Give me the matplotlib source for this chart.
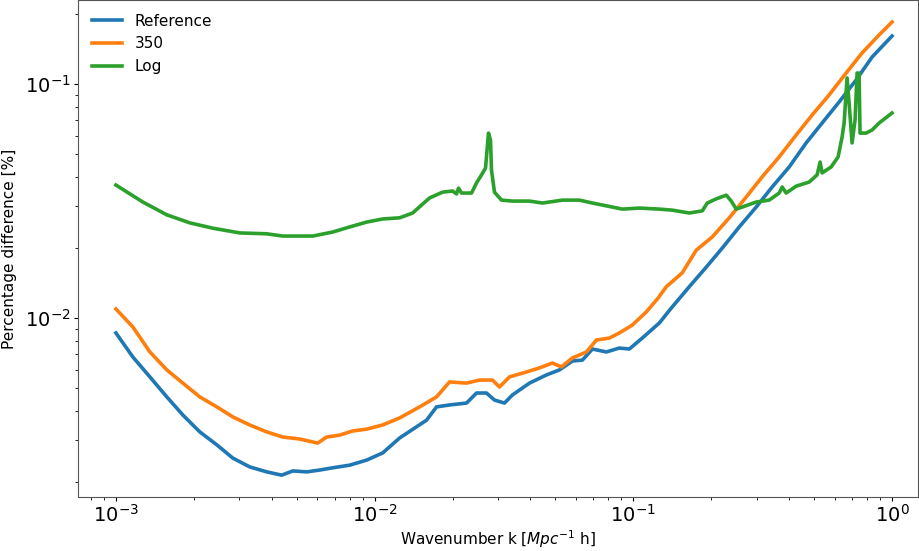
import numpy as np
import matplotlib
matplotlib.use("Agg")
import matplotlib.pyplot as plt

# percentage difference vs wavenumber, three runs
k_ref = [1.000e-3, 1.163e-3, 1.353e-3, 1.573e-3, 1.814e-3, 2.110e-3, 2.455e-3, 2.829e-3,
         3.291e-3, 3.828e-3, 4.374e-3, 4.825e-3, 5.464e-3, 6.133e-3, 6.884e-3, 8.009e-3,
         9.314e-3, 1.074e-2, 1.249e-2, 1.588e-2, 1.735e-2, 1.948e-2, 2.266e-2, 2.477e-2,
         2.706e-2, 2.906e-2, 3.176e-2, 3.410e-2, 3.968e-2, 4.614e-2, 5.179e-2, 5.815e-2,
         6.357e-2, 6.947e-2, 7.867e-2, 8.828e-2, 9.652e-2, 0.1083, 0.1260, 0.1402,
         0.1645, 0.1914, 0.2207, 0.2567, 0.2985, 0.3441, 0.4003, 0.4656, 0.5366, 0.6245,
         0.7261, 0.8373, 1.0]
diff_ref = [0.00863, 0.00681, 0.00560, 0.00460, 0.00385, 0.00326, 0.00287, 0.00252,
            0.00231, 0.00220, 0.00213, 0.00222, 0.00220, 0.00224, 0.00229, 0.00235,
            0.00247, 0.00265, 0.00307, 0.00366, 0.00417, 0.00425, 0.00433, 0.00478,
            0.00478, 0.00446, 0.00433, 0.00469, 0.00527, 0.00571, 0.00600, 0.00655,
            0.00661, 0.00737, 0.00716, 0.00744, 0.00737, 0.00821, 0.00952, 0.01103,
            0.0136, 0.0165, 0.0199, 0.0245, 0.0298, 0.0363, 0.0442, 0.0560, 0.0681, 0.0838,
            0.1040, 0.1304, 0.1604]

k_350 = [1.000e-3, 1.163e-3, 1.353e-3, 1.573e-3, 1.814e-3, 2.110e-3, 2.455e-3, 2.829e-3,
         3.291e-3, 3.828e-3, 4.413e-3, 5.133e-3, 6.025e-3, 6.527e-3, 7.327e-3, 8.226e-3,
         9.314e-3, 1.074e-2, 1.249e-2, 1.492e-2, 1.735e-2, 1.948e-2, 2.266e-2, 2.544e-2,
         2.855e-2, 3.038e-2, 3.320e-2, 3.863e-2, 4.336e-2, 4.867e-2, 5.272e-2, 5.815e-2,
         6.586e-2, 7.199e-2, 8.078e-2, 8.828e-2, 9.911e-2, 0.1122, 0.1249, 0.1341,
         0.1546, 0.1751, 0.2018, 0.2349, 0.2731, 0.3148, 0.3662, 0.4259, 0.4911, 0.5712,
         0.6645, 0.7657, 0.8910, 1.0]
diff_350 = [0.01093, 0.00915, 0.00716, 0.00600, 0.00527, 0.00460, 0.00417, 0.00378,
            0.00349, 0.00326, 0.00310, 0.00304, 0.00292, 0.00310, 0.00316, 0.00329,
            0.00335, 0.00349, 0.00374, 0.00417, 0.00460, 0.00533, 0.00527, 0.00543,
            0.00543, 0.00507, 0.00560, 0.00588, 0.00612, 0.00642, 0.00618, 0.00675,
            0.00716, 0.00805, 0.00821, 0.00863, 0.00933, 0.01061, 0.0122, 0.0136,
            0.0156, 0.0195, 0.0222, 0.0268, 0.0329, 0.0401, 0.0488, 0.0605, 0.0737, 0.0898,
            0.1114, 0.1357, 0.1620, 0.1841]

k_log = [1.000e-3, 1.271e-3, 1.573e-3, 1.931e-3, 2.369e-3, 3.011e-3, 3.828e-3, 4.413e-3,
         5.763e-3, 6.884e-3, 8.009e-3, 9.314e-3, 1.074e-2, 1.249e-2, 1.402e-2, 1.631e-2,
         1.830e-2, 2.001e-2, 2.073e-2, 2.110e-2, 2.168e-2, 2.369e-2, 2.477e-2, 2.590e-2,
         2.683e-2, 2.706e-2, 2.755e-2, 2.805e-2, 2.829e-2, 2.906e-2, 3.093e-2, 3.410e-2,
         3.968e-2, 4.452e-2, 5.319e-2, 6.189e-2, 6.947e-2, 8.296e-2, 9.067e-2, 0.1055,
         0.1260, 0.1415, 0.1645, 0.1847, 0.1931, 0.2092, 0.2287, 0.2391, 0.2499, 0.2636,
         0.2985, 0.3350, 0.3662, 0.3761, 0.3897, 0.4259, 0.4781, 0.5133, 0.5272, 0.5366,
         0.5815, 0.6187, 0.6413, 0.6527, 0.6704, 0.6823, 0.7007, 0.7197, 0.7326, 0.7457,
         0.7522, 0.7935, 0.8373, 0.8910, 1.0]
diff_log = [0.0370, 0.0313, 0.0276, 0.0255, 0.0242, 0.0231, 0.0229, 0.0224,
            0.0224, 0.0233, 0.0245, 0.0257, 0.0265, 0.0268, 0.0281, 0.0326,
            0.0345, 0.0349, 0.0339, 0.0359, 0.0342, 0.0342, 0.0378, 0.0409,
            0.0437, 0.0488, 0.0617, 0.0576, 0.0429, 0.0345, 0.0319, 0.0316,
            0.0316, 0.0310, 0.0319, 0.0319, 0.0310, 0.0298, 0.0292, 0.0295,
            0.0292, 0.0289, 0.0281, 0.0287, 0.0310, 0.0323, 0.0335, 0.0316, 0.0292, 0.0298,
            0.0313, 0.0319, 0.0342, 0.0363, 0.0342, 0.0366, 0.0381, 0.0409, 0.0464, 0.0417,
            0.0442, 0.0488, 0.0594, 0.0681, 0.1061, 0.0830, 0.0560, 0.0702, 0.1114, 0.1114,
            0.0617, 0.0617, 0.0636, 0.0681, 0.0752]

fig = plt.figure(figsize=(9.2, 5.51), dpi=100)
ax = fig.add_axes([78 / 920, 54 / 551, 840 / 920, 497 / 551])

ax.plot(k_ref, diff_ref, lw=2.6, color="#1f77b4", label="Reference")
ax.plot(k_350, diff_350, lw=2.6, color="#ff7f0e", label="350")
ax.plot(k_log, diff_log, lw=2.6, color="#2ca02c", label="Log")

ax.set_xscale("log")
ax.set_yscale("log")
ax.set_xlim(7.135e-4, 1.26)
ax.set_ylim(1.718e-3, 0.2286)
ax.tick_params(axis="both", which="major", labelsize=14, length=3, pad=2)
ax.tick_params(axis="both", which="minor", length=2)
for s in ax.spines.values():
    s.set_color("#555555")
ax.set_xlabel(r"Wavenumber k [$Mpc^{-1}$ h]", fontsize=11, labelpad=2)
ax.set_ylabel("Percentage difference [%]", fontsize=11, labelpad=6)
ax.legend(loc="upper left", frameon=False, fontsize=11)

fig.savefig("out.png", dpi=100)
